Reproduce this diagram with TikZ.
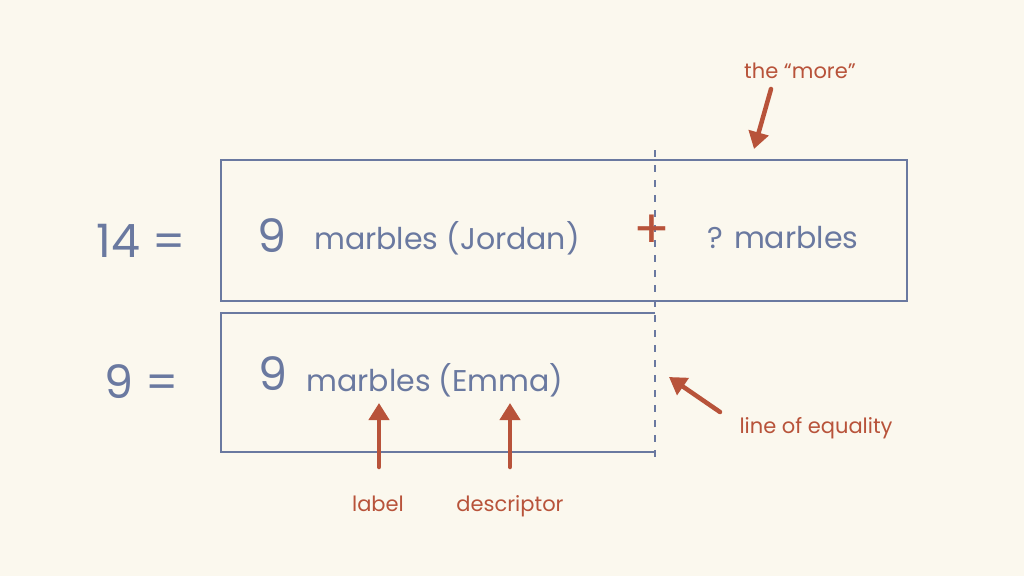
\documentclass[tikz,border=0pt]{standalone}
\usepackage{fontspec}
\setmainfont{Poppins}
\usetikzlibrary{arrows.meta}

\definecolor{paper}{HTML}{FBF8EE}
\definecolor{slate}{HTML}{6A79A0}
\definecolor{rust}{HTML}{B8533A}

\begin{document}
\begin{tikzpicture}[x=1pt, y=-1pt,
	bar/.style={draw=slate, line width=2pt},
	equality/.style={draw=slate, line width=2.6pt, dash pattern=on 7pt off 8pt},
	total/.style={text=slate, font=\fontsize{46}{50}\selectfont, inner sep=0pt, anchor=base},
	count/.style={text=slate, font=\fontsize{30}{34}\selectfont, inner sep=0pt, anchor=base},
	note/.style={text=rust, font=\fontsize{21}{24}\selectfont, inner sep=0pt, anchor=base},
	pointer/.style={draw=rust, line width=4.5pt, line cap=round, -{Triangle[length=17pt, width=20pt]}}]
	
	\fill[paper] (0,0) rectangle (1024,576);
	
	% bars
	\draw[bar] (221,160) rectangle (907,301);
	\draw[bar] (655,313) -- (221,313) -- (221,452) -- (655,452);
	\draw[equality] (655,150) -- (655,463);
	
	% totals
	\node[total] (fourteen) at (141,257) {14 =};
	\node[total] (nine) at (142,398) {9 =};
	
	% top bar
	\node[total] (jordannum) at (272,252) {9};
	\node[count] (jordan) at (447,249) {marbles (Jordan)};
	\node[text=rust, font=\fontsize{54}{58}\selectfont, inner sep=0pt] (plus) at (652,232) {+};
	\node[count] (more) at (783,248) {? marbles};
	
	% bottom bar
	\node[total] (emmanum) at (273,390) {9};
	\node[count] (emma) at (435,391) {marbles (Emma)};
	
	% notes
	\node[note] (label) at (378,511) {label};
	\node[note] (descriptor) at (510,511) {descriptor};
	\node[note] (thenmore) at (800,78) {the “more”};
	\node[note] (line) at (816,433) {line of equality};
	
	\coordinate (labeltail) at (379,467);
	\coordinate (labeltip) at (379,403);
	\coordinate (descriptortail) at (510,467);
	\coordinate (descriptortip) at (510,403);
	\coordinate (moretail) at (771,89);
	\coordinate (moretip) at (754,149);
	\coordinate (linetail) at (720,412);
	\coordinate (linetip) at (669,377);
	
	\draw[pointer] (labeltail) -- (labeltip);
	\draw[pointer] (descriptortail) -- (descriptortip);
	\draw[pointer] (moretail) -- (moretip);
	\draw[pointer] (linetail) -- (linetip);
	
\end{tikzpicture}
\end{document}
